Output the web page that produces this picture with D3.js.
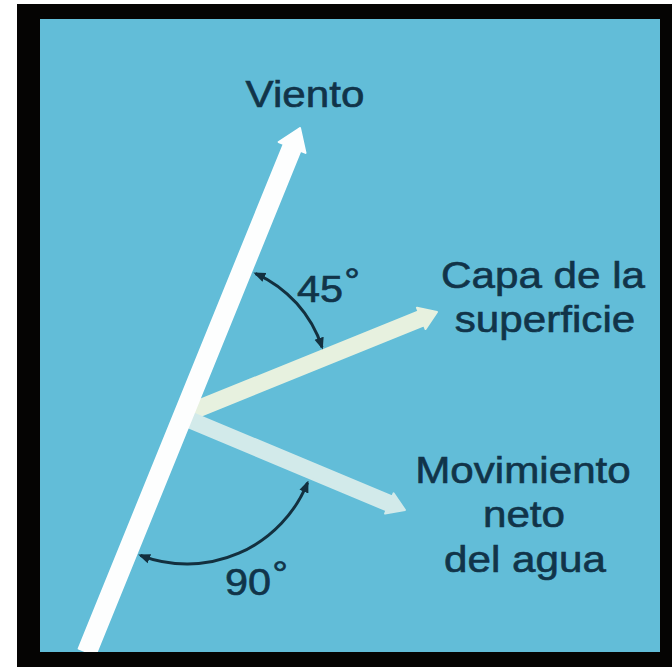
<!DOCTYPE html>
<html>
<head>
<meta charset="utf-8">
<script src="https://cdn.jsdelivr.net/npm/d3@7"></script>
<style>
  html, body { margin: 0; padding: 0; background: #ffffff; }
  svg { display: block; }
</style>
</head>
<body>
<script>
"use strict";
(function(){
  // panel coordinates (0..620 across, 0..633 down, inside the blue square)
  const arrowNames = ["Viento", "Capa", "Movimiento"]
  const arrowFrom = [[47, 633], [150, 393], [150, 401]]
  const arrowTo = [[260, 109], [397, 293], [365, 491]]
  const arrowColors = ["#fdfefe", "#e7f1df", "#d2eaea"]

  // angle arcs: centre, radius, start / end angle (degrees, clockwise from +x)
  const arcLabels = ["45", "90"]
  const arcCentres = [[166, 366], [147, 415]]
  const arcRadius = [122, 130]
  const arcAngles = [[-66, -18], [111, 22]]
  const arcTextPos = [[257, 283], [185, 576]]

  const labelLines = ["Viento", "Capa de la", "superficie", "Movimiento", "neto", "del agua"]
  const labelPos = [[265, 88], [503, 269], [505, 313], [483, 464], [484, 508], [485, 553]]

  const m = { width: 672, height: 667 }
  const svg = d3.select("body").append("svg")
      .attr("width", m.width)
      .attr("height", m.height)

  const x = d3.scaleLinear().domain([0, 620]).range([40, 660])
  const y = d3.scaleLinear().domain([0, 633]).range([19, 652])

  // frame
  svg.append("rect").attr("x", 17).attr("y", 4)
      .attr("width", m.width - 17).attr("height", m.height - 4)
      .attr("fill", "#050403")
  svg.append("rect").attr("x", x(0)).attr("y", y(0))
      .attr("width", x(620) - x(0)).attr("height", y(633) - y(0))
      .attr("fill", "#62bdd8")

  const defs = svg.append("defs")
  defs.append("clipPath").attr("id", "panel")
    .append("rect").attr("x", x(0)).attr("y", y(0))
      .attr("width", x(620) - x(0)).attr("height", y(633) - y(0))
  defs.append("marker")
      .attr("id", "tip")
      .attr("viewBox", "0 0 10 10")
      .attr("refX", 8).attr("refY", 5)
      .attr("markerWidth", 4).attr("markerHeight", 4)
      .attr("orient", "auto-start-reverse")
    .append("path")
      .attr("d", "M0,1 L10,5 L0,9 Z")
      .attr("fill", "#13303f")

  const g = svg.append("g").attr("clip-path", "url(#panel)")

  // arrow outline built from start/end, shaft width and head size
  function arrowPath(p0, p1, w, hw, hl) {
    const x0 = x(p0[0]), y0 = y(p0[1]), x1 = x(p1[0]), y1 = y(p1[1])
    const len = Math.hypot(x1 - x0, y1 - y0)
    const ux = (x1 - x0) / len, uy = (y1 - y0) / len
    const nx = -uy, ny = ux
    const bx = x1 - ux * hl, by = y1 - uy * hl
    const pts = [
      [x0 + nx * w / 2, y0 + ny * w / 2],
      [bx + nx * w / 2, by + ny * w / 2],
      [bx + nx * hw / 2, by + ny * hw / 2],
      [x1, y1],
      [bx - nx * hw / 2, by - ny * hw / 2],
      [bx - nx * w / 2, by - ny * w / 2],
      [x0 - nx * w / 2, y0 - ny * w / 2]
    ]
    return d3.line()(pts) + "Z"
  }

  const arrowSizes = [[18, 29, 21], [15, 23, 17], [15, 22, 17]]
  const order = [1, 2, 0]
  g.selectAll(".arrow")
    .data(order)
    .enter()
    .append("path")
      .attr("class", "arrow")
      .attr("d", i => arrowPath(arrowFrom[i], arrowTo[i], arrowSizes[i][0], arrowSizes[i][1], arrowSizes[i][2]))
      .attr("fill", i => arrowColors[i])
      .attr("stroke", i => arrowColors[i])
      .attr("stroke-width", 2)
      .attr("stroke-linejoin", "round")

  // angle arcs
  g.selectAll(".arc")
    .data(arcLabels)
    .enter()
    .append("path")
      .attr("class", "arc")
      .attr("d", (d, i) => {
        const p = d3.path()
        const a0 = arcAngles[i][0] * Math.PI / 180, a1 = arcAngles[i][1] * Math.PI / 180
        const cx = x(arcCentres[i][0]), cy = y(arcCentres[i][1])
        p.moveTo(cx + arcRadius[i] * Math.cos(a0), cy + arcRadius[i] * Math.sin(a0))
        p.arc(cx, cy, arcRadius[i], a0, a1, a1 < a0)
        return p.toString()
      })
      .attr("fill", "none")
      .attr("stroke", "#13303f")
      .attr("stroke-width", 3)
      .attr("marker-start", "url(#tip)")
      .attr("marker-end", "url(#tip)")

  const font = "'Liberation Sans', Arial, Helvetica, sans-serif"
  const ink = "#113449"

  const deg = g.selectAll(".deg")
    .data(arcLabels)
    .enter()
    .append("g")
      .attr("class", "deg")
      .attr("transform", (d, i) => "translate(" + x(arcTextPos[i][0]) + "," + y(arcTextPos[i][1]) + ") scale(1.12,1)")
    .append("text")
      .attr("font-family", font)
      .attr("font-size", 37)
      .attr("fill", ink)
      .attr("stroke", ink)
      .attr("stroke-width", 0.6)
  deg.append("tspan").text(d => d)
  deg.append("tspan").attr("dx", 1).attr("dy", -9).attr("font-size", 35).text("°")

  g.selectAll(".label")
    .data(labelLines)
    .enter()
    .append("g")
      .attr("class", "label")
      .attr("transform", (d, i) => "translate(" + x(labelPos[i][0]) + "," + y(labelPos[i][1]) + ") scale(1.14,1)")
    .append("text")
      .attr("text-anchor", "middle")
      .attr("font-family", font)
      .attr("font-size", 37)
      .attr("fill", ink)
      .attr("stroke", ink)
      .attr("stroke-width", 0.6)
      .text(d => d)
})();
</script>
</body>
</html>
